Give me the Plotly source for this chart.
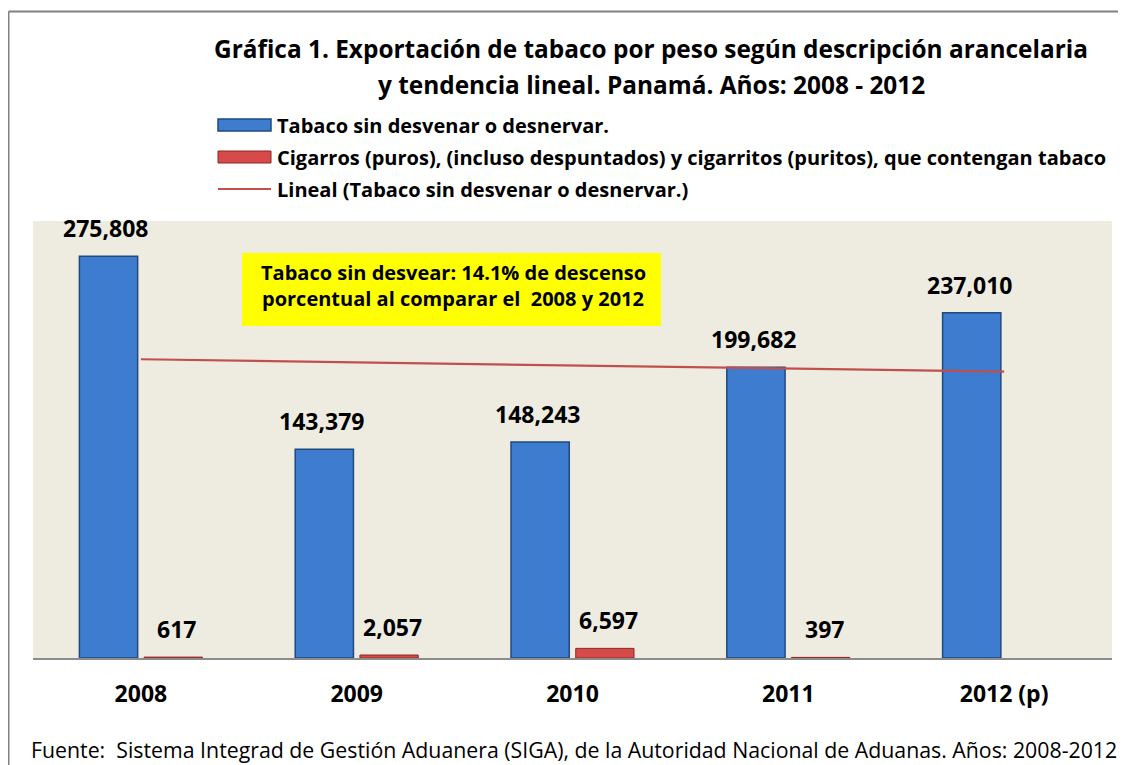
import plotly.graph_objects as go

# datos
anios = ["2008", "2009", "2010", "2011", "2012 (p)"]
tabaco_sin_desvenar = [275808, 143379, 148243, 199682, 237010]
cigarros = [617, 2057, 6597, 397, None]
tendencia_x = ["2008", "2012 (p)"]
tendencia_y = [205083, 196565]  # lineal (Excel)

nombre_tabaco = "Tabaco sin desvenar o desnervar."
nombre_cigarros = "Cigarros (puros), (incluso despuntados) y cigarritos (puritos), que contengan tabaco"
nombre_lineal = "Lineal (Tabaco sin desvenar o desnervar.)"

# la pagina tiene 8px de margen en el body
OFF = 8
W, H = 1126 - OFF, 765 - OFF
L, R, T, B = 33 - OFF, 14, 221 - OFF, 107
PW, PH = W - L - R, H - T - B
FONT = "Open Sans"


def px(x):
    # x de la pagina -> paper
    return (x - OFF - L) / PW


def py(y):
    return (H - B - (y - OFF)) / PH


fig = go.Figure()
fig.add_trace(go.Bar(x=anios, y=tabaco_sin_desvenar, name=nombre_tabaco,
                     marker=dict(color="#3D7CCF", line=dict(color="#21497E", width=1.5))))
fig.add_trace(go.Bar(x=anios, y=cigarros, name=nombre_cigarros,
                     marker=dict(color="#D64B49", line=dict(color="#8E2624", width=1))))
fig.add_trace(go.Scatter(x=tendencia_x, y=tendencia_y, mode="lines", name=nombre_lineal,
                         line=dict(color="#C0504D", width=2.2)))

anots = []
# etiquetas de datos (x por indice de categoria)
for i, v in enumerate(tabaco_sin_desvenar):
    anots.append(dict(x=i, y=v, text=f"{v:,}", showarrow=False, yanchor="bottom",
                      xshift=-35, yshift=10,
                      font=dict(size=23, family=FONT, color="black", weight="bold")))
for i, v in enumerate(cigarros):
    if v is None:
        continue
    anots.append(dict(x=i, y=v, text=f"{v:,}", showarrow=False, yanchor="bottom",
                      xshift=36, yshift=10,
                      font=dict(size=23, family=FONT, color="black", weight="bold")))


def texto(x, y, txt, size, bold=True, xanchor="center"):
    return dict(xref="paper", yref="paper", x=px(x), y=py(y), showarrow=False,
                xanchor=xanchor, yanchor="middle", text=txt,
                font=dict(size=size, family=FONT, color="black",
                          weight="bold" if bold else "normal"))


# titulo
anots.append(texto(651, 48, "Gráfica 1. Exportación de tabaco por peso según descripción arancelaria", 24.4))
anots.append(texto(651, 85, "y tendencia lineal. Panamá. Años: 2008 - 2012", 24.4))

# leyenda manual
shapes = []
ley_y = [125, 157, 189]
for yy, txt in zip(ley_y, [nombre_tabaco, nombre_cigarros, nombre_lineal]):
    anots.append(texto(275, yy, txt, 20, xanchor="left"))
shapes.append(dict(type="rect", xref="paper", yref="paper", x0=px(218), x1=px(271),
                   y0=py(ley_y[0] - 6), y1=py(ley_y[0] + 6),
                   fillcolor="#3D7CCF", line=dict(color="#21497E", width=1.5)))
shapes.append(dict(type="rect", xref="paper", yref="paper", x0=px(218), x1=px(271),
                   y0=py(ley_y[1] - 6), y1=py(ley_y[1] + 6),
                   fillcolor="#D64B49", line=dict(color="#8E2624", width=1)))
shapes.append(dict(type="line", xref="paper", yref="paper", x0=px(218), x1=px(271),
                   y0=py(ley_y[2]), y1=py(ley_y[2]), line=dict(color="#C0504D", width=2.2)))

# cuadro amarillo
shapes.append(dict(type="rect", xref="paper", yref="paper", x0=px(242), x1=px(661),
                   y0=py(253), y1=py(326), fillcolor="#FFFF00", line=dict(width=0), layer="above"))
anots.append(texto(453, 272, "Tabaco sin desvear: 14.1% de descenso", 20))
anots.append(texto(453, 298, "porcentual al comparar el  2008 y 2012", 20))

# fuente
anots.append(texto(574, 749, "Fuente:  Sistema Integrad de Gestión Aduanera (SIGA), de la Autoridad Nacional de Aduanas. Años: 2008-2012",
                   21.3, bold=False))

# borde
shapes.append(dict(type="line", xref="paper", yref="paper", x0=px(8.5), x1=px(8.5),
                   y0=py(765), y1=py(11.5), line=dict(color="#808080", width=2)))
shapes.append(dict(type="line", xref="paper", yref="paper", x0=px(8.5), x1=px(1126),
                   y0=py(11.5), y1=py(11.5), line=dict(color="#808080", width=2)))

fig.update_layout(
    width=W, height=H,
    margin=dict(l=L, r=R, t=T, b=B),
    paper_bgcolor="white",
    plot_bgcolor="#EEECE1",
    barmode="group",
    bargap=0.4,
    bargroupgap=0.1,
    showlegend=False,
    annotations=anots,
    shapes=shapes,
    font=dict(family=FONT),
)
fig.update_xaxes(type="category", range=[-0.5, 4.5], showline=True, linecolor="#8C8C8C",
                 linewidth=2, ticks="", ticklabelstandoff=14,
                 tickfont=dict(size=23, family=FONT, color="black", weight="bold"))
fig.update_yaxes(range=[0, 300000], showgrid=False, showticklabels=False, zeroline=False)

fig.write_html("out.html")
